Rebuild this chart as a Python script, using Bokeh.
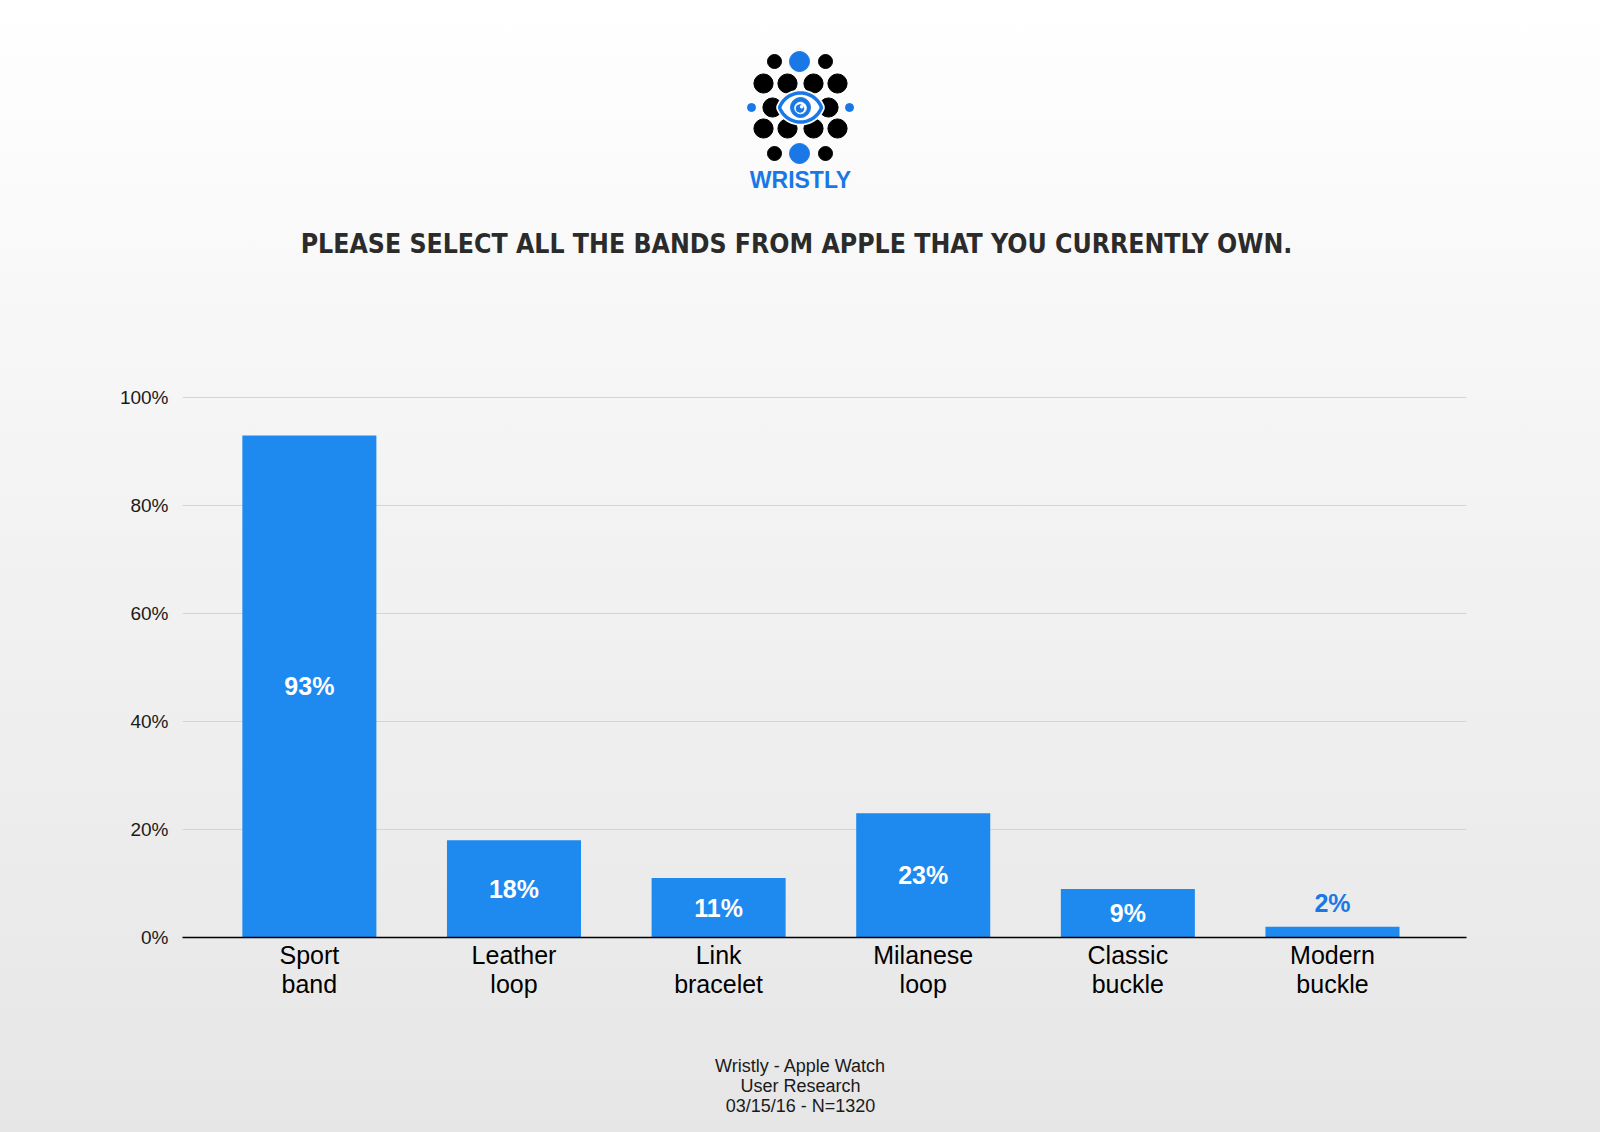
import numpy as np
from bokeh.plotting import figure
from bokeh.models import Range1d, FixedTicker, PrintfTickFormatter, ColumnDataSource
from bokeh.layouts import column
from bokeh.embed import file_html
from bokeh.resources import INLINE
from bokeh.core.properties import value

# ---------------- data ----------------
categories = ["Sport\nband", "Leather\nloop", "Link\nbracelet", "Milanese\nloop", "Classic\nbuckle", "Modern\nbuckle"]
shares = [93, 18, 11, 23, 9, 2]
y_ticks = [0, 20, 40, 60, 80, 100]
title_text = "PLEASE SELECT ALL THE BANDS FROM APPLE THAT YOU CURRENTLY OWN."
brand = "WRISTLY"
footer_lines = ["Wristly - Apple Watch", "User Research", "03/15/16 - N=1320"]

# ---------------- style ----------------
W = 1600
LEFT, RIGHT = 182, 1466          # plot frame edges (page px); column aligns all frames to these
BLUE = "#1a78e6"
BAR = "#1e89ee"
FONT = "Liberation Sans"
TXT = "#1a1a1a"


def blank(height, top, bottom):
    f = figure(width=W, height=height, x_range=Range1d(LEFT, RIGHT), y_range=Range1d(bottom, top),
               output_backend="svg", toolbar_location=None, x_axis_type=None, y_axis_type=None,
               min_border_left=LEFT, min_border_right=W - RIGHT, min_border_top=0, min_border_bottom=0,
               outline_line_color=None)
    f.background_fill_alpha = 0
    f.border_fill_alpha = 0
    f.grid.visible = False
    return f


# ---------------- header: logo + title ----------------
head = blank(310, 0, 310)
cx, cy = 800, 107
# logo geometry (decorative)
small_black = ([774, 825, 774, 825], [61, 61, 153, 153])
big_blue = ([799, 799], [61, 153])
big_black = ([763, 787, 813, 837, 763, 787, 813, 837, 772, 828],
             [83, 83, 83, 83, 128, 128, 128, 128, 107, 107])
small_blue = ([751, 849], [107, 107])
head.circle(*small_black, radius=7, color="black")
head.circle(*big_black, radius=9.6, color="black")
head.circle(*big_blue, radius=10, color=BLUE)
head.circle(*small_blue, radius=4, color=BLUE)

# almond-shaped eye from two arcs
hw, hh = 21, 14.5
R = (hw ** 2 + hh ** 2) / (2 * hh)
a = np.arcsin(hw / R)
t = np.linspace(-a, a, 40)
upper_x = cx + R * np.sin(t)
upper_y = cy + (R - hh) - R * np.cos(t)
lower_x = cx + R * np.sin(t[::-1])
lower_y = cy - (R - hh) + R * np.cos(t[::-1])
ex = np.concatenate([upper_x, lower_x])
ey = np.concatenate([upper_y, lower_y])
head.patch(ex, ey, fill_color="white", line_color="white", line_width=7)
head.patch(ex, ey, fill_color="white", line_color=BLUE, line_width=3.5)
head.circle([cx], [cy], radius=10, color=BLUE)
head.circle([cx], [cy + 0.5], radius=5.8, color="white")
head.circle([cx - 0.5], [cy + 1], radius=3.8, color=BLUE)
head.circle([cx + 1.2], [cy - 0.8], radius=1.4, color="white")

head.text(x=[cx], y=[179], text=[brand], text_font=value(FONT), text_font_style="bold",
          text_font_size="23px", text_color=BLUE, text_align="center", text_baseline="middle")
head.text(x=[796], y=[243], text=[title_text], text_font=value("DejaVu Sans Condensed"),
          text_font_style="bold", text_font_size="26.4px", text_color="#2b2b2b",
          text_align="center", text_baseline="middle")

# ---------------- main chart ----------------
xs = list(range(len(categories)))
inside = [v > 5 for v in shares]
src_in = ColumnDataSource(dict(x=[x for x, k in zip(xs, inside) if k],
                               y=[v / 2 for v, k in zip(shares, inside) if k],
                               t=[f"{v}%" for v, k in zip(shares, inside) if k]))
src_out = ColumnDataSource(dict(x=[x for x, k in zip(xs, inside) if not k],
                                y=[v for v, k in zip(shares, inside) if not k],
                                t=[f"{v}%" for v, k in zip(shares, inside) if not k]))

# main figure occupies page y 310..1030; frame 395..937 (100% sits 2px below the top)
p = figure(width=W, height=720, x_range=Range1d(-0.62, 5.655), y_range=Range1d(0, 100.4),
           output_backend="svg", toolbar_location=None,
           min_border_left=LEFT, min_border_right=W - RIGHT, min_border_top=85, min_border_bottom=93,
           outline_line_color=None)
p.background_fill_alpha = 0
p.border_fill_alpha = 0

p.vbar(x=xs, top=shares, bottom=0, width=0.655, fill_color=BAR, line_color=None)
p.text(x="x", y="y", text="t", source=src_in, text_font=value(FONT), text_font_style="bold",
       text_font_size="25px", text_color="white", text_align="center", text_baseline="middle")
p.text(x="x", y="y", text="t", source=src_out, text_font=value(FONT), text_font_style="bold",
       text_font_size="25px", text_color=BLUE, text_align="center", text_baseline="middle",
       y_offset=-24)

p.xgrid.visible = False
p.ygrid.ticker = FixedTicker(ticks=y_ticks)
p.ygrid.grid_line_color = "#d4d4d4"
p.ygrid.grid_line_width = 1.2

ya = p.yaxis[0]
ya.ticker = FixedTicker(ticks=y_ticks)
ya.formatter = PrintfTickFormatter(format="%d%%")
ya.axis_line_color = None
ya.major_tick_line_color = None
ya.minor_tick_line_color = None
ya.major_label_text_font = FONT
ya.major_label_text_font_size = "19px"
ya.major_label_text_color = TXT
ya.major_label_standoff = 8

xa = p.xaxis[0]
xa.ticker = FixedTicker(ticks=xs)
xa.major_label_overrides = {i: c for i, c in zip(xs, categories)}
xa.axis_line_color = "black"
xa.axis_line_width = 1.5
xa.major_tick_line_color = None
xa.minor_tick_line_color = None
xa.major_label_text_font = FONT
xa.major_label_text_font_size = "25px"
xa.major_label_text_line_height = 1.05
xa.major_label_text_color = "black"
xa.major_label_standoff = -3

# ---------------- footer ----------------
foot = blank(102, 1030, 1132)
foot.text(x=[800] * 3, y=[1065, 1085, 1105], text=footer_lines, text_font=value(FONT),
          text_font_size="18px", text_color=TXT, text_align="center", text_baseline="middle")

layout = column(head, p, foot, spacing=0,
                styles={"background": "linear-gradient(to bottom, #ffffff 0%, #f4f4f4 40%, #e6e6e6 100%)"})

open("out.html", "w").write(file_html(layout, INLINE))
